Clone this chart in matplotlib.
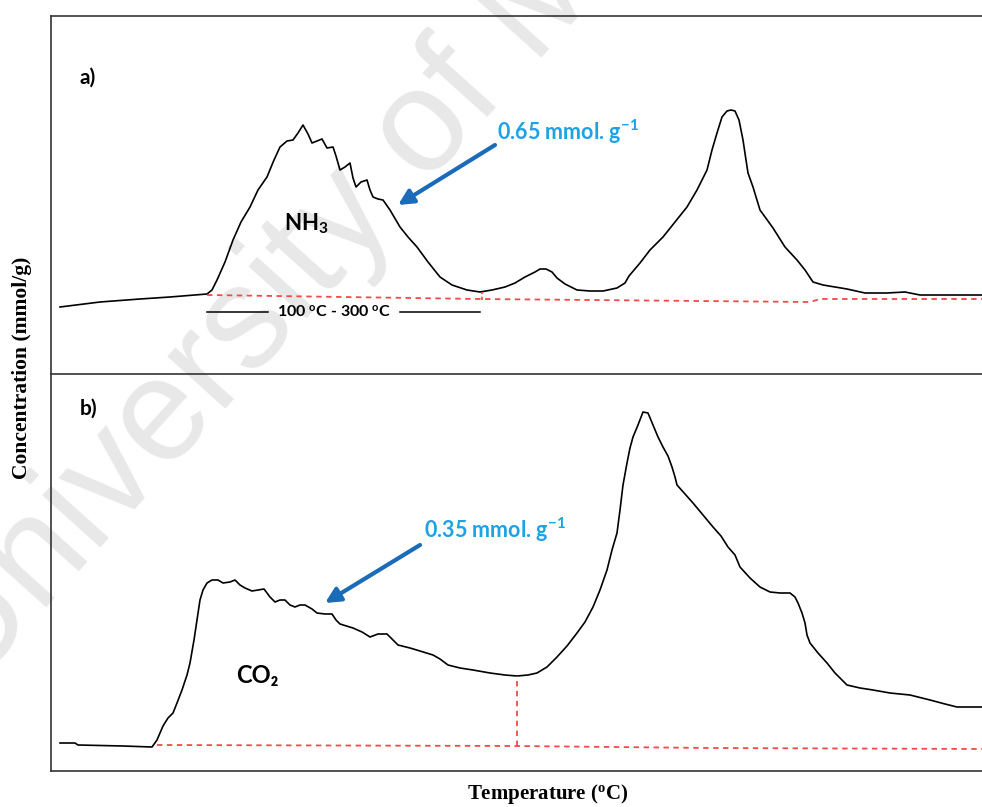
import matplotlib
matplotlib.use("Agg")
import matplotlib.pyplot as plt

plt.rcParams['mathtext.default'] = 'regular'

# panel a) NH3 trace (temperature index, signal)
t_nh3 = [9, 49, 89, 119, 156, 161, 166, 174, 182, 190, 199, 207, 216, 223, 229, 236, 242,
         247, 252, 257, 261, 266, 271, 276, 282, 285, 289, 294, 299, 302, 305, 310, 316,
         319, 322, 327, 332, 339, 349, 357, 366, 377, 389, 401, 416, 429, 441, 454, 464,
         474, 484, 489, 495, 501, 506, 514, 526, 539, 552, 566, 574, 578, 589, 599, 612,
         624, 636, 646, 656, 661, 666, 671, 676, 680, 684, 688, 692, 695, 697, 702, 709,
         722, 734, 746, 754, 762, 772, 784, 796, 814, 836, 854, 869, 896, 931]
s_nh3 = [67, 72, 75, 77, 80, 84, 94, 112, 134, 152, 167, 184, 197, 214, 227, 233, 234,
         241, 249, 240, 231, 233, 235, 226, 227, 218, 204, 207, 211, 196, 187, 192, 194,
         184, 177, 175, 174, 164, 147, 137, 127, 112, 97, 89, 84, 82, 84, 87, 91,
         97, 102, 105, 105, 102, 96, 90, 84, 83, 83, 86, 91, 98, 111, 124, 137,
         152, 167, 184, 204, 224, 241, 257, 263, 264, 263, 254, 234, 214, 201, 187, 164,
         146, 127, 114, 104, 92, 89, 87, 85, 81, 81, 82, 79, 79, 79]
base_a_t = [156, 429, 759, 769, 931]
base_a_s = [79, 75, 72, 75, 75]

# panel b) CO2 trace
t_co2 = [9, 24, 27, 72, 101, 106, 112, 117, 122, 126, 131, 136, 139, 143, 146, 149, 152,
         156, 161, 167, 172, 179, 184, 189, 194, 201, 207, 213, 219, 224, 229, 234, 239,
         244, 249, 254, 261, 266, 274, 281, 285, 289, 302, 311, 319, 327, 336, 342, 347,
         359, 369, 382, 389, 397, 409, 422, 439, 454, 466, 477, 486, 496, 506, 516, 526,
         534, 542, 549, 556, 561, 566, 569, 572, 576, 579, 582, 587, 592, 597, 602, 607,
         612, 617, 621, 624, 626, 634, 642, 652, 662, 670, 677, 684, 689, 699, 709, 719,
         729, 739, 744, 747, 751, 754, 756, 759, 767, 776, 784, 796, 809, 822, 839, 859,
         879, 894, 906, 931]
s_co2 = [28, 28, 26, 25, 24, 31, 45, 53, 58, 68, 81, 96, 108, 131, 151, 171, 181,
         188, 191, 191, 188, 189, 191, 186, 183, 180, 181, 182, 174, 169, 171, 171, 166,
         164, 166, 166, 162, 158, 157, 157, 151, 147, 143, 139, 134, 137, 137, 131, 126,
         123, 120, 116, 112, 106, 103, 101, 98, 96, 95, 96, 98, 104, 114, 125, 138,
         149, 164, 181, 201, 221, 238, 261, 286, 308, 323, 334, 346, 359, 358, 346, 334,
         324, 315, 304, 294, 286, 277, 268, 256, 244, 235, 224, 216, 204, 193, 184, 179,
         178, 178, 174, 168, 158, 148, 136, 128, 118, 108, 98, 86, 83, 81, 78, 76,
         71, 67, 64, 64]
base_b_t = [106, 466, 659, 931]
base_b_s = [26, 25, 23, 22]
split_t = 466
split_s = [25, 95]

fig = plt.figure(figsize=(9.82, 8.07), dpi=100)

# faint watermark behind the panels
fig.text(-0.031, 0.141, "University of Malaya", rotation=48, rotation_mode='anchor',
         ha='left', va='baseline', fontsize=105, color='#e8e8e8',
         family='Liberation Sans', zorder=0)

ax1 = fig.add_axes([51/982, 1 - 374/807, 1 - 51/982, (374 - 16)/807])
ax2 = fig.add_axes([51/982, 1 - 771/807, 1 - 51/982, (771 - 374)/807])

for ax in (ax1, ax2):
    ax.set_zorder(2)
    ax.patch.set_alpha(0)
    ax.set_xticks([])
    ax.set_yticks([])
    ax.set_xlim(0, 931)
    ax.spines['right'].set_visible(False)
    for s in ('left', 'top', 'bottom'):
        ax.spines[s].set_color('#333333')
        ax.spines[s].set_linewidth(1.2)
ax1.spines['bottom'].set_visible(False)
ax1.set_ylim(0, 358)
ax2.set_ylim(0, 397)

red = '#f24a4a'
blue_txt = '#1fa2e3'
blue_arr = '#1a6cb8'
lbl = ['Lato', 'DejaVu Sans']

# a) NH3
ax1.plot(t_nh3, s_nh3, color='black', lw=1.2)
ax1.plot(base_a_t, base_a_s, color=red, lw=1.3, ls=(0, (3, 2.5)))
ax1.plot([431, 431], [74, 82], color=red, lw=1.2, ls=(0, (2, 1.5)))
ax1.plot([156, 217], [62, 62], color='black', lw=1.1)
ax1.plot([349, 429], [62, 62], color='black', lw=1.1)
ax1.text(283, 62, "100 $^{o}$C - 300 $^{o}$C", ha='center', va='center',
         fontsize=11.5, fontweight='bold', family=lbl)
ax1.text(29, 296, "a)", fontsize=15, fontweight='bold', family=lbl, va='center')
ax1.text(233, 150, "NH$_3$", fontsize=16, fontweight='bold', family=lbl, va='center')
ax1.annotate("", xy=(347, 169), xytext=(444, 229),
             arrowprops=dict(arrowstyle='-|>,head_length=0.9,head_width=0.45',
                             color=blue_arr, lw=3, shrinkA=0, shrinkB=0))
ax1.text(446, 242, "0.65 mmol. g$^{-1}$", color=blue_txt, fontsize=15.5,
         fontweight='bold', family=lbl, va='center')

# b) CO2
ax2.plot(t_co2, s_co2, color='black', lw=1.2)
ax2.plot(base_b_t, base_b_s, color=red, lw=1.3, ls=(0, (3, 2.5)))
ax2.plot([split_t, split_t], split_s, color=red, lw=1.3, ls=(0, (3, 2.5)))
ax2.text(29, 362, "b)", fontsize=15, fontweight='bold', family=lbl, va='center')
ax2.text(185, 95, "CO\u2082", fontsize=17, fontweight='bold', family=lbl, va='center')
ax2.annotate("", xy=(274, 168), xytext=(369, 226),
             arrowprops=dict(arrowstyle='-|>,head_length=0.9,head_width=0.45',
                             color=blue_arr, lw=3, shrinkA=0, shrinkB=0))
ax2.text(373, 241, "0.35 mmol. g$^{-1}$", color=blue_txt, fontsize=15.5,
         fontweight='bold', family=lbl, va='center')

fig.text(22/982, 1 - 368/807, "Concentration (mmol/g)", rotation=90, ha='center',
         va='center', fontsize=15.5, fontweight='bold', family='Liberation Serif')
fig.text(548/982, 1 - 794/807, "Temperature ($^{o}$C)", ha='center', va='center',
         fontsize=15, fontweight='bold', family='Liberation Serif')

fig.savefig("out.png", dpi=100)
